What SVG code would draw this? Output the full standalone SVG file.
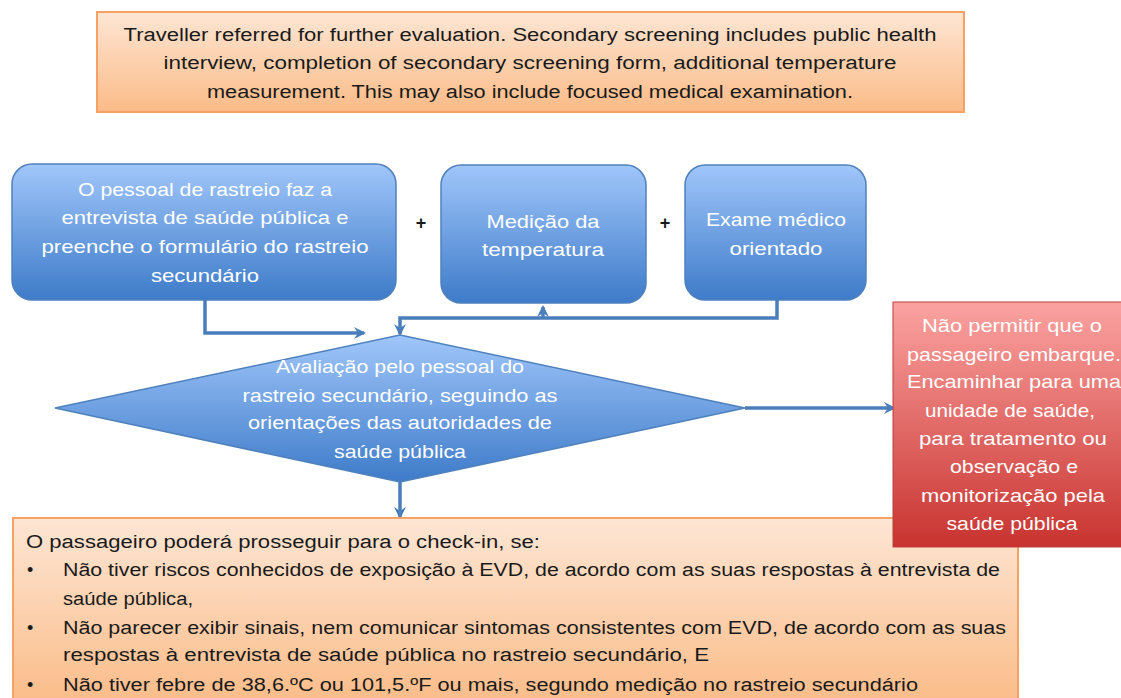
<svg xmlns="http://www.w3.org/2000/svg" width="1121" height="698" viewBox="0 0 1121 698">
<defs>
<linearGradient id="gOr" x1="0" y1="0" x2="0" y2="1"><stop offset="0" stop-color="#fde6d4"/><stop offset="1" stop-color="#fbbb87"/></linearGradient>
<linearGradient id="gBl" x1="0" y1="0" x2="0" y2="1"><stop offset="0" stop-color="#a0c6fa"/><stop offset="1" stop-color="#3e7bc9"/></linearGradient>
<linearGradient id="gRd" x1="0" y1="0" x2="0" y2="1"><stop offset="0" stop-color="#fba3a1"/><stop offset="1" stop-color="#c8332f"/></linearGradient>
<marker id="arr" markerWidth="14" markerHeight="14" refX="10" refY="7" orient="auto" markerUnits="userSpaceOnUse"><path d="M0,1 L12,7 L0,13 L4,7 Z" fill="#4a7ebb"/></marker>
<style>
.or{fill:url(#gOr);stroke:#f7a164;stroke-width:2}
.bl{fill:url(#gBl);stroke:#4f81bd;stroke-width:1.5}
.rd{fill:url(#gRd);stroke:#b8403c;stroke-width:1}
.tk{font-family:"Liberation Sans",Arial,sans-serif;font-size:18px;fill:#1a1a1a}
.tw{font-family:"Liberation Sans",Arial,sans-serif;font-size:19px;fill:#ffffff;text-anchor:middle}
.c{text-anchor:middle}
.ln{fill:none;stroke:#4a7ebb;stroke-width:3.5}
</style>
</defs>
<g id="n-top">
<rect class="or" x="97" y="12" width="867" height="100"/>
<text class="tk c" x="530" y="41" textLength="813" lengthAdjust="spacingAndGlyphs">Traveller referred for further evaluation. Secondary screening includes public health</text>
<text class="tk c" x="530" y="69" textLength="733" lengthAdjust="spacingAndGlyphs">interview, completion of secondary screening form, additional temperature</text>
<text class="tk c" x="530" y="98" textLength="646" lengthAdjust="spacingAndGlyphs">measurement. This may also include focused medical examination.</text>
</g>
<g id="n-interview">
<rect class="bl" x="12" y="164" width="384" height="136" rx="20"/>
<text class="tw" x="205" y="196" textLength="254" lengthAdjust="spacingAndGlyphs">O pessoal de rastreio faz a</text>
<text class="tw" x="205" y="224" textLength="287" lengthAdjust="spacingAndGlyphs">entrevista de saúde pública e</text>
<text class="tw" x="205" y="253" textLength="327" lengthAdjust="spacingAndGlyphs">preenche o formulário do rastreio</text>
<text class="tw" x="205" y="282" textLength="108" lengthAdjust="spacingAndGlyphs">secundário</text>
</g>
<text class="tk c" x="421" y="229" style="font-weight:bold">+</text>
<g id="n-temp">
<rect class="bl" x="441" y="165" width="205" height="138" rx="20"/>
<text class="tw" x="543" y="228" textLength="113" lengthAdjust="spacingAndGlyphs">Medição da</text>
<text class="tw" x="543" y="256" textLength="122" lengthAdjust="spacingAndGlyphs">temperatura</text>
</g>
<text class="tk c" x="665" y="229" style="font-weight:bold">+</text>
<g id="n-exam">
<rect class="bl" x="685" y="165" width="181" height="135" rx="20"/>
<text class="tw" x="776" y="226" textLength="140" lengthAdjust="spacingAndGlyphs">Exame médico</text>
<text class="tw" x="776" y="255" textLength="93" lengthAdjust="spacingAndGlyphs">orientado</text>
</g>
<g id="connectors">
<path class="ln" d="M205,300 V333 H364" marker-end="url(#arr)"/>
<path class="ln" d="M777,300 V318 H400 V334" marker-end="url(#arr)"/>
<path class="ln" d="M543,318 V307" marker-end="url(#arr)"/>
<path class="ln" d="M745,408 H894" marker-end="url(#arr)"/>
<path class="ln" d="M400,482 V517" marker-end="url(#arr)"/>
</g>
<g id="n-eval">
<polygon class="bl" points="55,408 400,335 745,408 400,482"/>
<text class="tw" x="400" y="373" textLength="248" lengthAdjust="spacingAndGlyphs">Avaliação pelo pessoal do</text>
<text class="tw" x="400" y="402" textLength="315" lengthAdjust="spacingAndGlyphs">rastreio secundário, seguindo as</text>
<text class="tw" x="400" y="429" textLength="304" lengthAdjust="spacingAndGlyphs">orientações das autoridades de</text>
<text class="tw" x="400" y="458" textLength="132" lengthAdjust="spacingAndGlyphs">saúde pública</text>
</g>
<g id="n-checkin">
<rect class="or" x="13" y="518" width="1005" height="190"/>
<text class="tk" x="26" y="548" textLength="514" lengthAdjust="spacingAndGlyphs">O passageiro poderá prosseguir para o check-in, se:</text>
<text class="tk" x="27" y="576">•</text>
<text class="tk" x="63" y="576" textLength="937" lengthAdjust="spacingAndGlyphs">Não tiver riscos conhecidos de exposição à EVD, de acordo com as suas respostas à entrevista de</text>
<text class="tk" x="63" y="605" textLength="130" lengthAdjust="spacingAndGlyphs">saúde pública,</text>
<text class="tk" x="27" y="634">•</text>
<text class="tk" x="63" y="634" textLength="943" lengthAdjust="spacingAndGlyphs">Não parecer exibir sinais, nem comunicar sintomas consistentes com EVD, de acordo com as suas</text>
<text class="tk" x="63" y="661" textLength="646" lengthAdjust="spacingAndGlyphs">respostas à entrevista de saúde pública no rastreio secundário, E</text>
<text class="tk" x="27" y="691">•</text>
<text class="tk" x="63" y="691" textLength="855" lengthAdjust="spacingAndGlyphs">Não tiver febre de 38,6.ºC ou 101,5.ºF ou mais, segundo medição no rastreio secundário</text>
</g>
<g id="n-deny">
<rect class="rd" x="893" y="302" width="230" height="245"/>
<text class="tw" x="1012" y="332" textLength="180" lengthAdjust="spacingAndGlyphs">Não permitir que o</text>
<text class="tw" x="1014" y="361" textLength="214" lengthAdjust="spacingAndGlyphs">passageiro embarque.</text>
<text class="tw" x="1014" y="388" textLength="214" lengthAdjust="spacingAndGlyphs">Encaminhar para uma</text>
<text class="tw" x="1010" y="417" textLength="170" lengthAdjust="spacingAndGlyphs">unidade de saúde,</text>
<text class="tw" x="1013" y="445" textLength="188" lengthAdjust="spacingAndGlyphs">para tratamento ou</text>
<text class="tw" x="1014" y="473" textLength="128" lengthAdjust="spacingAndGlyphs">observação e</text>
<text class="tw" x="1013" y="502" textLength="184" lengthAdjust="spacingAndGlyphs">monitorização pela</text>
<text class="tw" x="1012" y="530" textLength="131" lengthAdjust="spacingAndGlyphs">saúde pública</text>
</g>
</svg>
